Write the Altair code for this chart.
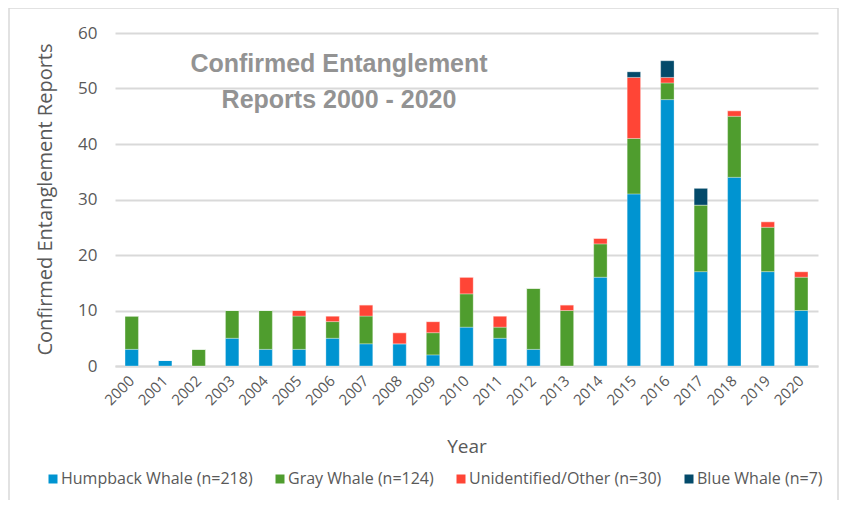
import altair as alt
import pandas as pd

years = [str(y) for y in range(2000, 2021)]
humpback = [3, 1, 0, 5, 3, 3, 5, 4, 4, 2, 7, 5, 3, 0, 16, 31, 48, 17, 34, 17, 10]
gray = [6, 0, 3, 5, 7, 6, 3, 5, 0, 4, 6, 2, 11, 10, 6, 10, 3, 12, 11, 8, 6]
unidentified = [0, 0, 0, 0, 0, 1, 1, 2, 2, 2, 3, 2, 0, 1, 1, 11, 1, 0, 1, 1, 1]
blue = [0, 0, 0, 0, 0, 0, 0, 0, 0, 0, 0, 0, 0, 0, 0, 1, 3, 3, 0, 0, 0]
series_names = ["Humpback Whale (n=218)", "Gray Whale (n=124)",
                "Unidentified/Other (n=30)", "Blue Whale (n=7)"]
series_colors = ["#0094D1", "#4F9D2E", "#FF4536", "#034A6A"]
title_lines = ["Confirmed Entanglement", "Reports 2000 - 2020"]

rows = []
for i, y in enumerate(years):
    for k, vals in enumerate([humpback, gray, unidentified, blue]):
        rows.append({"Year": y, "Species": series_names[k], "Count": vals[i], "ord": k})
df = pd.DataFrame(rows)

GREY = "#595959"
FONT = "Open Sans"

bars = alt.Chart(df).mark_bar(stroke="white", strokeWidth=0.6, strokeOpacity=0.5).encode(
    x=alt.X("Year:N", sort=years,
            scale=alt.Scale(paddingInner=0.6, paddingOuter=0.3),
            axis=alt.Axis(title="Year", labelAngle=-45, labelAlign="right",
                          labelBaseline="middle", labelPadding=12, labelFontSize=15,
                          labelColor=GREY, labelFont=FONT, ticks=False,
                          domainColor="#d9d9d9", domainWidth=2,
                          titleFont=FONT, titleFontSize=19, titleColor=GREY,
                          titleFontWeight="normal", titleY=80, titleBaseline="middle")),
    y=alt.Y("sum(Count):Q", scale=alt.Scale(domain=[0, 60]),
            axis=alt.Axis(title="Confirmed Entanglement Reports", values=[0, 10, 20, 30, 40, 50, 60],
                          labelFontSize=17, labelColor=GREY, labelFont=FONT, labelPadding=18,
                          ticks=False, domain=False, gridColor="#d9d9d9", gridWidth=2,
                          titleFont=FONT, titleFontSize=20, titleColor=GREY,
                          titleFontWeight="normal", titleX=-70, titleY=166,
                          titleAlign="center", titleBaseline="middle")),
    color=alt.Color("Species:N", sort=series_names,
                    scale=alt.Scale(domain=series_names, range=series_colors),
                    legend=alt.Legend(title=None, orient="none", direction="horizontal",
                                      columns=4, legendX=-70, legendY=438,
                                      symbolType="square", symbolSize=81,
                                      symbolStrokeWidth=0, labelFontSize=16,
                                      labelFont=FONT, labelColor=GREY, labelLimit=0,
                                      labelOffset=0, columnPadding=19, padding=0)),
    order=alt.Order("ord:Q", sort="ascending"),
)

title_df = pd.DataFrame({"t": ["\n".join(title_lines)]})
title = alt.Chart(title_df).mark_text(
    font="Liberation Sans", fontWeight="bold", fontSize=25, color="#939393",
    lineBreak="\n", lineHeight=36, align="center", baseline="middle"
).encode(text="t:N", x=alt.value(224), y=alt.value(31))

frame = alt.Chart(title_df).mark_rect(fill="transparent", stroke="#d9d9d9", strokeWidth=1.5).encode(
    x=alt.value(-106), x2=alt.value(723), y=alt.value(-25), y2=alt.value(490)
)

chart = alt.layer(frame, bars, title).properties(
    width=703, height=333,
    autosize=alt.AutoSizeParams(type="none"),
    padding={"left": 107, "top": 25, "right": 22, "bottom": 134},
).configure_view(stroke=None)

chart.save("out.html", embed_options={"renderer": "svg", "actions": False})
